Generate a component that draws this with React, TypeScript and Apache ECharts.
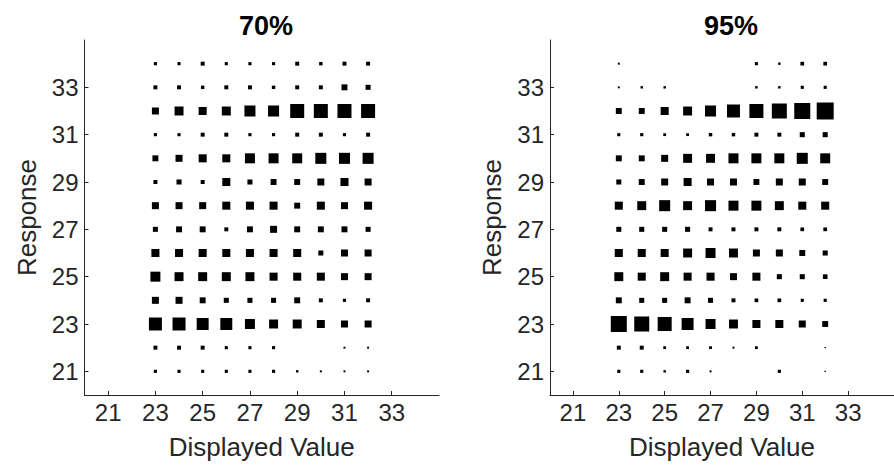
import React, { useEffect, useRef } from "react";
import * as echarts from "echarts";

// Displayed values (columns) and response values (rows)
const displayedValues = [23, 24, 25, 26, 27, 28, 29, 30, 31, 32];
const responseValues = [21, 22, 23, 24, 25, 26, 27, 28, 29, 30, 31, 32, 33, 34];
const tickValues = [21, 23, 25, 27, 29, 31, 33];
const panelTitles = ["70%", "95%"];

// Counts per response row (21 → 34), one entry per displayed value (23 → 32)
const counts70 = [
  [5, 5, 5, 5, 5, 5, 3, 2, 2, 2],
  [8, 8, 8, 5, 5, 5, 0, 0, 2, 2],
  [86, 86, 73, 73, 51, 41, 41, 33, 25, 25],
  [25, 25, 18, 13, 13, 13, 18, 8, 5, 8],
  [51, 41, 41, 41, 41, 33, 33, 33, 25, 25],
  [33, 33, 33, 33, 33, 33, 33, 13, 25, 25],
  [13, 18, 18, 8, 18, 25, 18, 18, 18, 13],
  [25, 25, 25, 33, 33, 33, 18, 33, 25, 33],
  [8, 13, 8, 33, 13, 18, 18, 25, 33, 25],
  [18, 25, 33, 33, 51, 51, 51, 62, 62, 62],
  [5, 5, 8, 8, 5, 5, 8, 8, 5, 8],
  [25, 41, 33, 41, 62, 62, 100, 100, 100, 100],
  [8, 8, 6, 8, 8, 6, 8, 8, 18, 13],
  [5, 5, 8, 5, 5, 5, 8, 6, 8, 8],
];

const counts95 = [
  [5, 5, 3, 5, 2, 0, 0, 5, 0, 1],
  [8, 8, 4, 4, 4, 2, 4, 0, 0, 1],
  [131, 115, 100, 73, 51, 41, 33, 33, 25, 18],
  [18, 13, 13, 18, 13, 8, 7, 7, 5, 5],
  [41, 33, 41, 33, 33, 25, 33, 13, 13, 11],
  [33, 33, 33, 41, 51, 41, 25, 25, 18, 13],
  [13, 13, 13, 13, 8, 8, 8, 8, 7, 7],
  [33, 41, 62, 41, 62, 51, 51, 41, 33, 33],
  [13, 18, 25, 33, 25, 25, 18, 25, 25, 18],
  [18, 18, 25, 41, 41, 51, 51, 51, 62, 51],
  [5, 5, 4, 4, 6, 6, 8, 8, 13, 13],
  [18, 18, 33, 41, 62, 86, 100, 115, 131, 147],
  [2, 3, 3, 0, 0, 0, 3, 3, 5, 5],
  [2, 0, 0, 0, 0, 0, 5, 3, 7, 7],
];

const FONT = "'Liberation Sans', Arial, Helvetica, sans-serif";
const INK = "#262626";
const TICK_FONT = 24;
const LABEL_FONT = 26;

function toPoints(counts: number[][]) {
  const pts: number[][] = [];
  counts.forEach((row, ri) => {
    row.forEach((c, ci) => {
      if (c > 0) pts.push([displayedValues[ci], responseValues[ri], c]);
    });
  });
  return pts;
}

function axisCommon(name: string, nameGap: number, labelMargin: number) {
  return {
    type: "value" as const,
    min: 20,
    max: 35,
    name,
    nameLocation: "middle" as const,
    nameGap,
    nameTextStyle: { fontFamily: FONT, fontSize: LABEL_FONT, color: INK },
    axisLine: { show: true, onZero: false, lineStyle: { color: INK, width: 1 } },
    axisTick: {
      show: true,
      inside: true,
      length: 4,
      customValues: tickValues,
      lineStyle: { color: INK, width: 1 },
    },
    axisLabel: {
      show: true,
      customValues: tickValues,
      fontFamily: FONT,
      fontSize: TICK_FONT,
      color: INK,
      margin: labelMargin,
    },
    splitLine: { show: false },
  };
}

export default function App() {
  const ref = useRef<HTMLDivElement>(null);

  useEffect(() => {
    if (!ref.current) return;
    const chart = echarts.init(ref.current, undefined, { renderer: "svg" });
    const grids = [
      { left: 84.5, top: 40, width: 354.5, height: 355 },
      { left: 550, top: 40, width: 354, height: 355 },
    ];
    const centers = [261, 726];
    const option: any = {
      animation: false,
      backgroundColor: "#ffffff",
      title: panelTitles.map((t, i) => ({
        text: t,
        left: centers[i],
        top: 7,
        textAlign: "center",
        textStyle: { fontFamily: FONT, fontSize: 27, fontWeight: "bold", color: "#000" },
      })),
      grid: grids,
      xAxis: grids.map((_, i) => ({
        ...axisCommon("Displayed Value", 39, 5),
        gridIndex: i,
      })),
      yAxis: grids.map((_, i) => ({
        ...axisCommon("Response", 45, 6),
        gridIndex: i,
      })),
      series: [counts70, counts95].map((c, i) => ({
        type: "scatter",
        xAxisIndex: i,
        yAxisIndex: i,
        symbol: "rect",
        symbolSize: (v: number[]) => 1.4 * Math.sqrt(v[2]),
        itemStyle: { color: "#000", opacity: 1 },
        data: toPoints(c),
        silent: true,
      })),
    };
    chart.setOption(option);
    return () => chart.dispose();
  }, []);

  return (
    <div
      ref={ref}
      style={{ position: "fixed", left: 0, top: 0, width: 894, height: 475 }}
    />
  );
}
